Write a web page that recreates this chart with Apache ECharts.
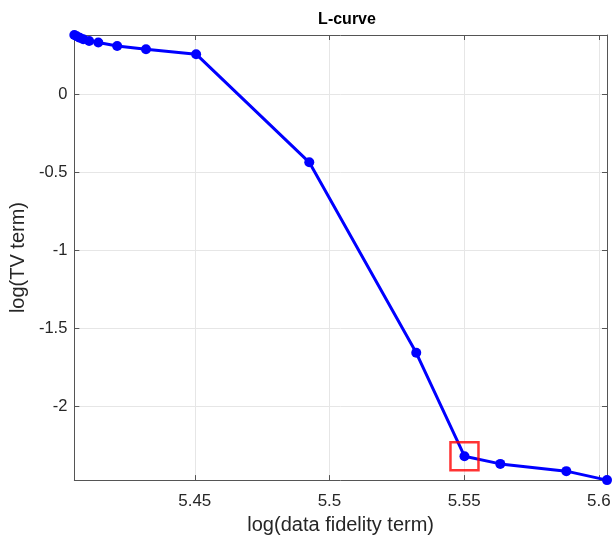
<!DOCTYPE html>
<html>
<head>
<meta charset="utf-8">
<script src="https://cdn.jsdelivr.net/npm/echarts@6/dist/echarts.min.js"></script>
<style>html,body{margin:0;padding:0;background:#fff;}#c{width:614px;height:540px;}</style>
</head>
<body>
<div id="c"></div>
<script>
var xValues = [5.4053, 5.4062, 5.4073, 5.4086, 5.4108, 5.4142, 5.4212, 5.4319, 5.4505, 5.4925, 5.5322, 5.5501, 5.5634, 5.5879, 5.6030];
var yValues = [0.3827, 0.3744, 0.3648, 0.3552, 0.3444, 0.3342, 0.3125, 0.2915, 0.2596, -0.4337, -1.6556, -2.3189, -2.3680, -2.4145, -2.4720];
var cornerIndex = 11;
var xTicks = [5.45, 5.5, 5.55, 5.6];
var yTicks = [-2, -1.5, -1, -0.5, 0];
var titleText = 'L-curve';
var xName = 'log(data fidelity term)';
var yName = 'log(TV term)';

var pts = xValues.map(function (x, i) { return [x, yValues[i]]; });
var xMin = Math.min.apply(null, xValues), xMax = Math.max.apply(null, xValues);
var yMin = Math.min.apply(null, yValues), yMax = Math.max.apply(null, yValues);
var font = 'Liberation Sans, Arial, Helvetica, sans-serif';
var axisColor = '#555555';

function fmt(v) { return String(v); }

var chart = echarts.init(document.getElementById('c'), null, {renderer: 'canvas'});
chart.setOption({
  animation: false,
  backgroundColor: '#ffffff',
  title: {
    text: titleText, left: 342, top: 7, textAlign: 'center',
    textStyle: {fontFamily: font, fontSize: 16, fontWeight: 'bold', color: '#000'}
  },
  grid: {left: 74, right: 7, top: 35, bottom: 58, containLabel: false},
  xAxis: [{
    type: 'value', min: xMin, max: xMax, position: 'bottom',
    name: xName, nameLocation: 'middle', nameGap: 33,
    nameTextStyle: {fontFamily: font, fontSize: 20, color: '#262626'},
    axisLine: {show: true, onZero: false, lineStyle: {color: axisColor, width: 1}},
    axisTick: {show: true, inside: true, length: 5, customValues: xTicks, lineStyle: {color: axisColor}},
    axisLabel: {customValues: xTicks, formatter: fmt, margin: 13, fontFamily: font, fontSize: 17, color: '#262626'},
    splitLine: {show: true, lineStyle: {color: '#e6e6e6', width: 1}}
  }, {
    type: 'value', min: xMin, max: xMax, position: 'top',
    axisLine: {show: true, onZero: false, lineStyle: {color: axisColor, width: 1}},
    axisTick: {show: true, inside: true, length: 5, customValues: xTicks, lineStyle: {color: axisColor}},
    axisLabel: {show: false, customValues: xTicks},
    splitLine: {show: false}
  }],
  yAxis: [{
    type: 'value', min: yMin, max: yMax, position: 'left',
    name: yName, nameLocation: 'middle', nameGap: 44, nameRotate: 90,
    nameTextStyle: {fontFamily: font, fontSize: 20, color: '#262626'},
    axisLine: {show: true, onZero: false, lineStyle: {color: axisColor, width: 1}},
    axisTick: {show: true, inside: true, length: 5, customValues: yTicks, lineStyle: {color: axisColor}},
    axisLabel: {customValues: yTicks, formatter: fmt, margin: 7, fontFamily: font, fontSize: 16.5, color: '#262626'},
    splitLine: {show: true, lineStyle: {color: '#e6e6e6', width: 1}}
  }, {
    type: 'value', min: yMin, max: yMax, position: 'right',
    axisLine: {show: true, onZero: false, lineStyle: {color: axisColor, width: 1}},
    axisTick: {show: true, inside: true, length: 5, customValues: yTicks, lineStyle: {color: axisColor}},
    axisLabel: {show: false, customValues: yTicks},
    splitLine: {show: false}
  }],
  series: [{
    type: 'line', data: pts, xAxisIndex: 0, yAxisIndex: 0,
    symbol: 'circle', symbolSize: 10, showSymbol: true,
    lineStyle: {color: '#0000ff', width: 3},
    itemStyle: {color: '#0000ff'},
    clip: false, z: 3
  }, {
    type: 'scatter', data: [pts[cornerIndex]], xAxisIndex: 0, yAxisIndex: 0,
    symbol: 'rect', symbolSize: 28,
    itemStyle: {color: 'rgba(0,0,0,0)', borderColor: '#ff0000', borderWidth: 2.5},
    clip: false, z: 4
  }]
});
</script>
</body>
</html>
